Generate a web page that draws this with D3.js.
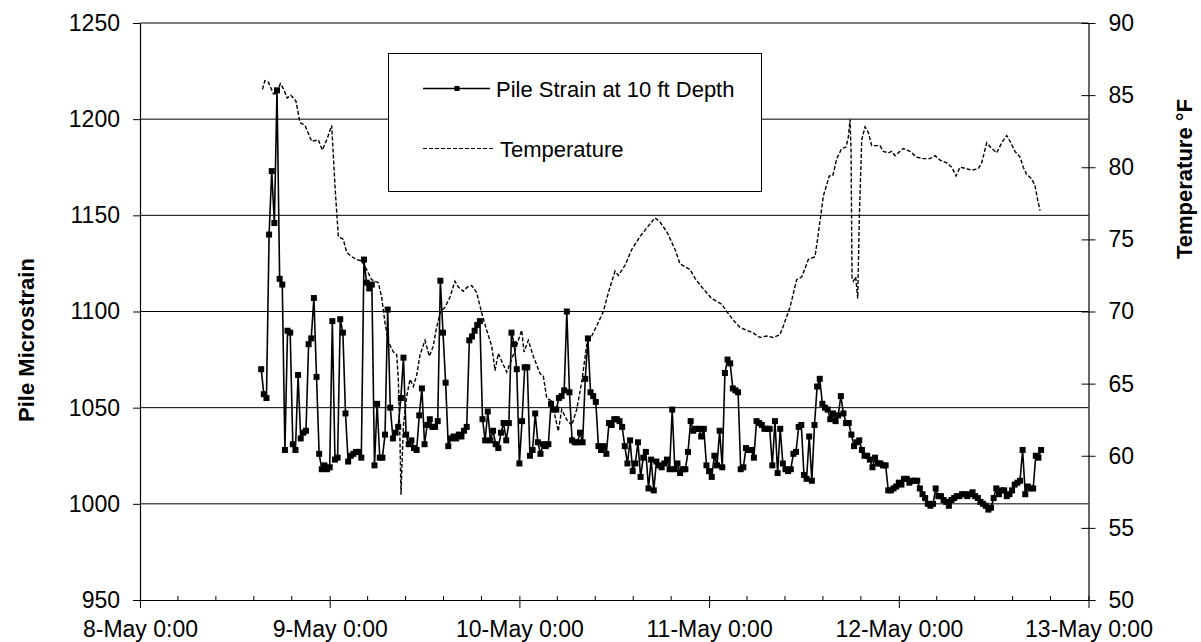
<!DOCTYPE html>
<html><head><meta charset="utf-8">
<script src="https://cdn.jsdelivr.net/npm/d3@7"></script>
<style>body{margin:0;background:#fff}svg{display:block}text{font-family:Arial,"Liberation Sans",sans-serif;fill:#000}</style>
</head><body><svg id="c" width="1201" height="642"></svg>
<script>
// ---------- data ----------
const seriesNames = ["Pile Strain at 10 ft Depth", "Temperature"];
const dayLabels = ["8-May 0:00","9-May 0:00","10-May 0:00","11-May 0:00","12-May 0:00","13-May 0:00"];
const dayHours = [0,24,48,72,96,120];
const leftTicks = [950,1000,1050,1100,1150,1200,1250];
const rightTicks = [50,55,60,65,70,75,80,85,90];
const strainStartHour = 15 + 20/60;   // 8-May 15:20, readings every 20 min
const strainStepHours = 20/60;
const strain = [
1070,1057,1055,1140,1173,1146,1215,1117,1114,1028,
1090,1089,1031,1028,1067,1034,1037,1038,1083,1086,
1107,1066,1026,1018,1020,1018,1019,1095,1023,1024,
1096,1089,1047,1022,1025,1026,1027,1027,1024,1127,
1115,1112,1114,1020,1052,1024,1024,1036,
1101,1050,1034,1037,1040,1055,1076,1036,1031,1033,
1029,1028,1046,1060,1031,1041,1044,1040,1040,1043,
1116,1089,1063,1030,1034,1035,1034,1036,1035,1038,
1040,1085,1087,1090,1093,1095,
1044,1033,1048,1033,1038,1031,1029,1037,1042,1033,1042,
1089,1083,1070,1021,1043,1071,1071,1025,1028,1047,
1032,1026,1031,1030,1031,1052,1049,1049,1055,1056,
1059,1100,1058,1033,1032,1032,1037,1032,1065,1086,
1058,1056,1053,1030,1028,
1030,1026,1042,1041,1044,1044,1043,1040,1030,1021,
1033,1017,1021,1032,1014,1024,1027,1008,1023,1007,
1022,1020,1019,1021,1023,1018,1049,1018,1021,1016,
1018,1018,1027,1043,1038,1039,1039,1035,1039,1020,
1017,1014,1025,1020,1038,1019,1068,1075,1073,1060,
1059,1058,1018,1019,1029,1028,1028,1024,1043,1042,
1041,1039,1039,1039,1020,1043,1016,
1039,1021,1018,1017,1018,1026,1027,1040,1041,1015,
1013,1035,1012,1041,1061,1065,1052,1050,1049,1044,
1047,1043,1046,1056,1047,1042,1042,1036,1030,1032,
1033,1028,1025,1025,1023,1019,1024,1021,1021,1020,
1020,1007,1007,1008,1009,1011,1010,1013,1013,1011,
1012,1012,1012,1008,1005,1003,1000,999,1000,1008,1004,
1004,1002,1001,999,1002,1003,1004,1004,1005,1005,
1004,1005,1006,1004,1003,1001,1000,999,997,998,
1003,1008,1005,1007,1007,1004,1005,1007,1010,1011,
1012,1028,1005,1009,1008,1008,1025,1024,1028
];
const tempHours = [15.49,15.79,16.23,16.88,17.32,17.75,18.19,18.62,19.07,19.72,20.24,20.88,21.72,22.56,23.06,23.70,24.25,24.67,25.09,25.72,26.15,26.78,27.42,28.05,28.68,29.31,30.15,30.57,31.0,31.41,32.05,32.48,32.68,32.89,33.02,33.31,33.74,34.16,34.58,35.01,35.43,36.06,36.60,37.11,37.45,37.96,38.59,39.22,39.85,40.27,40.90,41.41,41.97,42.60,43.23,43.86,44.50,44.92,45.33,45.89,46.40,46.81,47.44,48.29,48.58,49.13,49.76,50.61,51.03,51.46,52.09,52.92,53.35,53.99,54.62,55.25,55.88,56.52,57.15,57.78,58.62,59.25,60.10,60.52,61.36,62.21,63.26,64.27,65.16,65.79,66.68,67.69,68.32,69.59,70.22,71.07,71.70,72.33,72.96,73.60,74.23,75.06,75.91,76.76,77.60,78.44,79.29,80.12,80.97,81.39,82.24,83.08,83.72,84.55,85.40,85.82,86.45,87.21,87.64,88.15,88.78,89.32,89.62,89.83,89.96,90.08,90.25,90.55,90.80,91.01,91.31,91.73,92.15,92.57,93.21,93.62,94.04,94.67,95.10,95.52,95.94,96.57,97.42,98.27,99.10,99.95,100.58,101.22,102.06,102.70,103.24,103.75,104.59,105.23,106.06,106.49,107.12,107.76,108.39,109.02,109.65,110.07,110.70,111.34,111.75,112.18,112.82,113.24,113.58,113.87];
const tempValues = [85.4,86.0,85.9,85.1,85.1,85.8,85.4,84.8,85.0,84.6,83.1,82.9,81.8,81.9,81.2,82.0,82.9,78.7,75.2,75.0,74.1,73.8,73.6,73.5,72.9,72.2,72.0,71.0,69.2,67.9,67.2,67.0,65.3,61.1,57.3,62.0,64.1,65.3,64.8,65.6,67.0,68.0,66.9,67.6,68.7,69.9,70.3,71.0,72.1,71.7,71.4,71.7,71.8,71.3,69.9,68.7,67.6,65.9,67.1,66.4,65.8,66.4,67.3,68.7,67.2,68.0,66.9,65.7,65.5,64.0,63.8,61.7,63.2,62.5,62.1,63.2,65.1,67.7,68.3,69.0,70.0,71.3,72.8,72.5,73.2,74.3,75.2,75.9,76.5,76.2,75.5,74.3,73.3,72.9,72.3,71.7,71.3,70.9,70.7,70.5,70.0,69.4,68.9,68.7,68.5,68.2,68.3,68.2,68.4,69.0,70.3,72.2,72.4,73.6,73.8,75.4,78.0,79.4,79.4,80.6,81.3,81.4,82.1,83.3,81.2,72.4,72.1,72.4,70.9,76.6,81.9,82.8,82.4,81.5,81.5,81.5,81.1,81.0,81.1,80.8,81.0,81.3,81.1,80.7,80.6,80.6,80.8,80.5,80.3,80.0,79.4,80.0,79.9,79.8,79.9,80.3,81.7,81.3,81.0,81.7,82.2,81.8,81.1,80.7,80.0,79.5,79.2,78.7,77.7,77.0];

// ---------- layout ----------
const L = 140, R = 1088.5, T = 23, B = 600, FS = 22, TFS = 23;
const svg = d3.select("#c");
const x = d3.scaleLinear().domain([0,120]).range([L,R]);
const yL = d3.scaleLinear().domain([950,1250]).range([B,T]);
const yR = d3.scaleLinear().domain([50,90]).range([B,T]);
const fmt = d3.format("d");

// gridlines
svg.append("g").selectAll("line").data(leftTicks.filter(v=>v>950)).join("line")
  .attr("x1",L).attr("x2",R).attr("y1",d=>yL(d)).attr("y2",d=>yL(d))
  .attr("stroke","#000").attr("stroke-width",1);

// left axis
const gL = svg.append("g").attr("transform",`translate(${L},0)`)
  .call(d3.axisLeft(yL).tickValues(leftTicks).tickFormat(fmt).tickSize(7).tickSizeOuter(0).tickPadding(13));
// right axis
const gR = svg.append("g").attr("transform",`translate(${R},0)`)
  .call(d3.axisRight(yR).tickValues(rightTicks).tickFormat(fmt).tickSize(7).tickSizeOuter(0).tickPadding(13));
gR.selectAll(".tick line").attr("x1",-7);
// bottom axis
const gB = svg.append("g").attr("transform",`translate(0,${B})`)
  .call(d3.axisBottom(x).tickValues(dayHours).tickFormat((d,i)=>dayLabels[i]).tickSize(8).tickSizeOuter(0).tickPadding(13));
gB.selectAll(".tick line").attr("y1",-4);
const minor = d3.range(0,120.01,4.8).filter(h=>Math.abs(h/24-Math.round(h/24))>1e-6);
gB.append("g").selectAll("line").data(minor).join("line")
  .attr("x1",d=>x(d)).attr("x2",d=>x(d)).attr("y1",-4).attr("y2",0).attr("stroke","#000");

[gL,gR,gB].forEach(g=>{
  g.selectAll(".domain").attr("stroke","#000").attr("stroke-width",1.2);
  g.selectAll(".tick line").attr("stroke","#000");
  g.selectAll("text").attr("font-size",TFS).attr("font-family","Arial, 'Liberation Sans', sans-serif").attr("fill","#000");
});

// axis titles
svg.append("text").attr("transform","translate(34,340) rotate(-90)").attr("text-anchor","middle")
  .attr("font-size",FS).attr("font-weight","bold").text("Pile Microstrain");
svg.append("text").attr("transform","translate(1192,179) rotate(-90)").attr("text-anchor","middle")
  .attr("font-size",FS).attr("font-weight","bold").text("Temperature °F");

// temperature line
const tempPts = tempHours.map((h,i)=>[h,tempValues[i]]);
svg.append("path").datum(tempPts)
  .attr("d",d3.line().x(d=>x(d[0])).y(d=>yR(d[1])))
  .attr("fill","none").attr("stroke","#000").attr("stroke-width",1.4).attr("stroke-dasharray","4,2");

// strain line + markers
const strainPts = strain.map((v,i)=>[strainStartHour+i*strainStepHours, v]);
svg.append("path").datum(strainPts)
  .attr("d",d3.line().x(d=>x(d[0])).y(d=>yL(d[1])))
  .attr("fill","none").attr("stroke","#000").attr("stroke-width",1.6);
const MS = 6;
svg.append("g").selectAll("rect").data(strainPts).join("rect")
  .attr("x",d=>x(d[0])-MS/2).attr("y",d=>yL(d[1])-MS/2).attr("width",MS).attr("height",MS).attr("fill","#000");

// legend
const lg = svg.append("g");
lg.append("rect").attr("x",388.5).attr("y",53.5).attr("width",373).attr("height",138)
  .attr("fill","#fff").attr("stroke","#000").attr("stroke-width",1);
lg.append("line").attr("x1",423).attr("x2",490).attr("y1",88.5).attr("y2",88.5).attr("stroke","#000").attr("stroke-width",1.6);
lg.append("rect").attr("x",457-2.5).attr("y",88.5-2.5).attr("width",5).attr("height",5).attr("fill","#000");
lg.append("text").attr("x",496).attr("y",96.5).attr("font-size",FS).text(seriesNames[0]);
lg.append("line").attr("x1",423).attr("x2",493).attr("y1",148.5).attr("y2",148.5).attr("stroke","#000").attr("stroke-width",1.2).attr("stroke-dasharray","4,2");
lg.append("text").attr("x",500).attr("y",156.5).attr("font-size",FS).text(seriesNames[1]);
</script></body></html>
